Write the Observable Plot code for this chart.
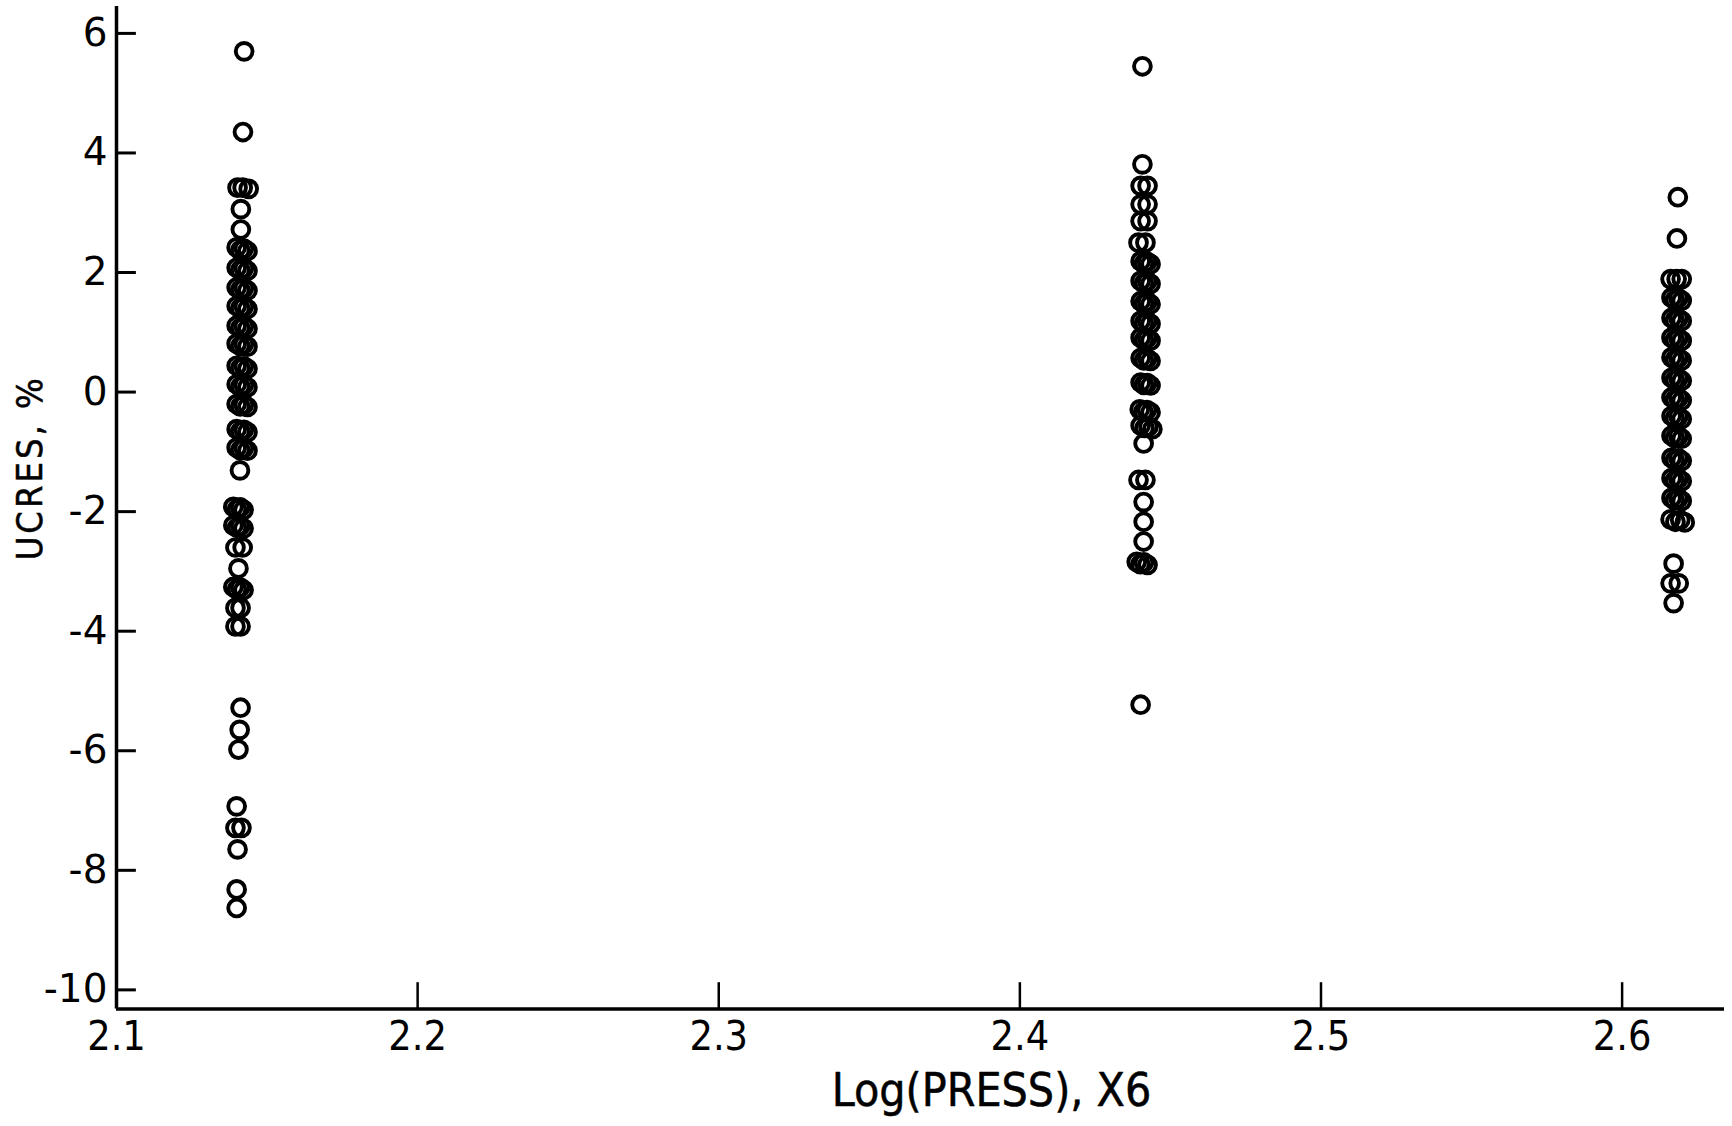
<!DOCTYPE html>
<html>
<head>
<meta charset="utf-8">
<script src="https://cdn.jsdelivr.net/npm/d3@7"></script>
<script src="https://cdn.jsdelivr.net/npm/@observablehq/plot@0.6"></script>
<style>
  html, body { margin: 0; padding: 0; background: #ffffff; }
  #chart { width: 1732px; height: 1126px; overflow: hidden; }
</style>
</head>
<body>
<div id="chart"></div>
<script>
// ---- Axis ticks ----
const xTicks = [2.1, 2.2, 2.3, 2.4, 2.5, 2.6];
const yTicks = [6, 4, 2, 0, -2, -4, -6, -8, -10];
const xTitle = "Log(PRESS), X6";
const yTitle = "UCRES, %";

// ---- Column near Log(PRESS) = 2.14 ----
const x1 = [
  2.1424, 2.1420,
  2.1402, 2.1419, 2.1439,
  2.1413, 2.1413,
  2.1399, 2.1411, 2.1423, 2.1435,
  2.1399, 2.1411, 2.1423, 2.1435,
  2.1399, 2.1411, 2.1423, 2.1435,
  2.1399, 2.1411, 2.1423, 2.1435,
  2.1399, 2.1411, 2.1423, 2.1435,
  2.1399, 2.1411, 2.1423, 2.1435,
  2.1399, 2.1411, 2.1423, 2.1435,
  2.1399, 2.1411, 2.1423, 2.1435,
  2.1399, 2.1411, 2.1423, 2.1435,
  2.1399, 2.1411, 2.1423, 2.1435,
  2.1399, 2.1411, 2.1423, 2.1435,
  2.1410,
  2.1388, 2.1400, 2.1411, 2.1422,
  2.1388, 2.1400, 2.1411, 2.1422,
  2.1395, 2.1419,
  2.1405,
  2.1388, 2.1400, 2.1411, 2.1422,
  2.1395, 2.1412,
  2.1395, 2.1412,
  2.1412, 2.1409, 2.1405, 2.1399,
  2.1395, 2.1415,
  2.1402, 2.1399, 2.1399
];
const y1 = [
  5.70, 4.35,
  3.42, 3.42, 3.40,
  3.06, 2.72,
  2.42, 2.37, 2.40, 2.36,
  2.08, 2.04, 2.07, 2.03,
  1.75, 1.71, 1.74, 1.70,
  1.44, 1.40, 1.43, 1.39,
  1.11, 1.07, 1.10, 1.06,
  0.81, 0.77, 0.80, 0.76,
  0.44, 0.40, 0.43, 0.39,
  0.13, 0.09, 0.12, 0.08,
  -0.20, -0.24, -0.21, -0.25,
  -0.62, -0.66, -0.63, -0.67,
  -0.93, -0.97, -0.94, -0.98,
  -1.31,
  -1.92, -1.96, -1.93, -1.97,
  -2.23, -2.27, -2.24, -2.28,
  -2.60, -2.60,
  -2.95,
  -3.26, -3.30, -3.27, -3.31,
  -3.61, -3.61,
  -3.92, -3.92,
  -5.28, -5.65, -5.98, -6.93,
  -7.29, -7.29,
  -7.65, -8.32, -8.63
];

// ---- Column near Log(PRESS) = 2.44 ----
const x2 = [
  2.4407, 2.4407,
  2.4401, 2.4424,
  2.4401, 2.4424,
  2.4401, 2.4424,
  2.4394, 2.4417,
  2.4401, 2.4412, 2.4423, 2.4434,
  2.4401, 2.4412, 2.4423, 2.4434,
  2.4401, 2.4412, 2.4423, 2.4434,
  2.4401, 2.4412, 2.4423, 2.4434,
  2.4401, 2.4412, 2.4423, 2.4434,
  2.4401, 2.4412, 2.4423, 2.4434,
  2.4401, 2.4412, 2.4423, 2.4434,
  2.4398, 2.4410, 2.4422, 2.4434,
  2.4401, 2.4414, 2.4427, 2.4440,
  2.4411,
  2.4394, 2.4417,
  2.4411, 2.4411, 2.4411,
  2.4388, 2.4400, 2.4412, 2.4424,
  2.4401
];
const y2 = [
  5.45, 3.81,
  3.45, 3.45,
  3.14, 3.14,
  2.86, 2.86,
  2.50, 2.50,
  2.19, 2.15, 2.18, 2.14,
  1.86, 1.82, 1.85, 1.81,
  1.52, 1.48, 1.51, 1.47,
  1.19, 1.15, 1.18, 1.14,
  0.91, 0.87, 0.90, 0.86,
  0.57, 0.53, 0.56, 0.52,
  0.16, 0.12, 0.15, 0.11,
  -0.29, -0.33, -0.30, -0.34,
  -0.56, -0.60, -0.58, -0.62,
  -0.86,
  -1.47, -1.47,
  -1.84, -2.17, -2.50,
  -2.84, -2.88, -2.85, -2.89,
  -5.23
];

// ---- Column near Log(PRESS) = 2.62 ----
const x3 = [
  2.6185, 2.6182,
  2.6161, 2.6181, 2.6198,
  2.6164, 2.6175, 2.6187, 2.6198,
  2.6164, 2.6175, 2.6187, 2.6198,
  2.6164, 2.6175, 2.6187, 2.6198,
  2.6164, 2.6175, 2.6187, 2.6198,
  2.6164, 2.6175, 2.6187, 2.6198,
  2.6164, 2.6175, 2.6187, 2.6198,
  2.6164, 2.6175, 2.6187, 2.6198,
  2.6164, 2.6175, 2.6187, 2.6198,
  2.6164, 2.6175, 2.6187, 2.6198,
  2.6164, 2.6175, 2.6187, 2.6198,
  2.6164, 2.6175, 2.6187, 2.6198,
  2.6161, 2.6177, 2.6193, 2.6208,
  2.6171,
  2.6161, 2.6188,
  2.6171
];
const y3 = [
  3.26, 2.57,
  1.89, 1.89, 1.89,
  1.58, 1.54, 1.57, 1.53,
  1.24, 1.20, 1.23, 1.19,
  0.91, 0.87, 0.90, 0.86,
  0.58, 0.54, 0.57, 0.53,
  0.24, 0.20, 0.23, 0.19,
  -0.09, -0.13, -0.10, -0.14,
  -0.40, -0.44, -0.41, -0.45,
  -0.73, -0.77, -0.74, -0.78,
  -1.10, -1.14, -1.11, -1.15,
  -1.44, -1.48, -1.45, -1.49,
  -1.77, -1.81, -1.78, -1.82,
  -2.13, -2.17, -2.14, -2.18,
  -2.87,
  -3.20, -3.20,
  -3.53
];

const points = [
  ...x1.map((x, i) => ({x, y: y1[i]})),
  ...x2.map((x, i) => ({x, y: y2[i]})),
  ...x3.map((x, i) => ({x, y: y3[i]}))
];

const xMin = 2.1, xMax = 2.634;
const yMin = -10.32, yMax = 6.45;

const narrow = "'DejaVu Sans Condensed', 'Liberation Sans Narrow', 'DejaVu Sans', sans-serif";
const wide = "'DejaVu Sans', 'Liberation Sans', sans-serif";

const chart = Plot.plot({
  width: 1732,
  height: 1126,
  marginLeft: 116,
  marginRight: 8,
  marginTop: 6,
  marginBottom: 117.5,
  style: {background: "#ffffff", color: "#000000"},
  x: {domain: [xMin, xMax], axis: null},
  y: {domain: [yMin, yMax], axis: null},
  marks: [
    // axis lines
    Plot.ruleX([xMin], {stroke: "#000", strokeWidth: 3.5}),
    Plot.ruleY([yMin], {stroke: "#000", strokeWidth: 3.5}),
    // inward tick marks
    Plot.ruleY(yTicks, {x1: xMin, x2: xMin + 0.0066, stroke: "#000", strokeWidth: 3}),
    Plot.ruleX(xTicks.filter(d => d > xMin), {y1: yMin, y2: yMin + 0.44, stroke: "#000", strokeWidth: 2.5}),
    // tick labels
    Plot.axisY({
      ticks: yTicks, tickSize: 0, tickPadding: 9, label: null,
      tickFormat: d => d < 0 ? "-" + Math.abs(d) : String(d),
      fontSize: 39, fontFamily: wide, fill: "#000", className: "ylab"
    }),
    Plot.axisX({
      ticks: xTicks, tickSize: 0, tickPadding: 12, label: null,
      tickFormat: d => d.toFixed(1),
      fontSize: 41, fontFamily: narrow, fill: "#000", className: "narrowtxt"
    }),
    // axis titles
    Plot.text([xTitle], {
      frameAnchor: "bottom", text: d => d, dx: 71, dy: 82,
      fontSize: 46, fontFamily: narrow, fill: "#000", stroke: "#000", strokeWidth: 0.5,
      lineAnchor: "middle", textAnchor: "middle", className: "narrowtxt"
    }),
    Plot.text([yTitle], {
      frameAnchor: "left", text: d => d, dx: -86, dy: -40, rotate: -90,
      fontSize: 36, fontFamily: narrow, fill: "#000", stroke: "#000", strokeWidth: 0.5,
      lineAnchor: "middle", textAnchor: "middle", className: "narrowtxt ytitle"
    }),
    // data
    Plot.dot(points, {x: "x", y: "y", r: 8.4, stroke: "#000", strokeWidth: 3.9, fill: "none"})
  ]
});

document.getElementById("chart").appendChild(chart);
d3.select(chart).selectAll(".narrowtxt text").attr("font-stretch", "condensed");
d3.select(chart).selectAll(".ytitle text").attr("letter-spacing", "3px");
</script>
</body>
</html>
